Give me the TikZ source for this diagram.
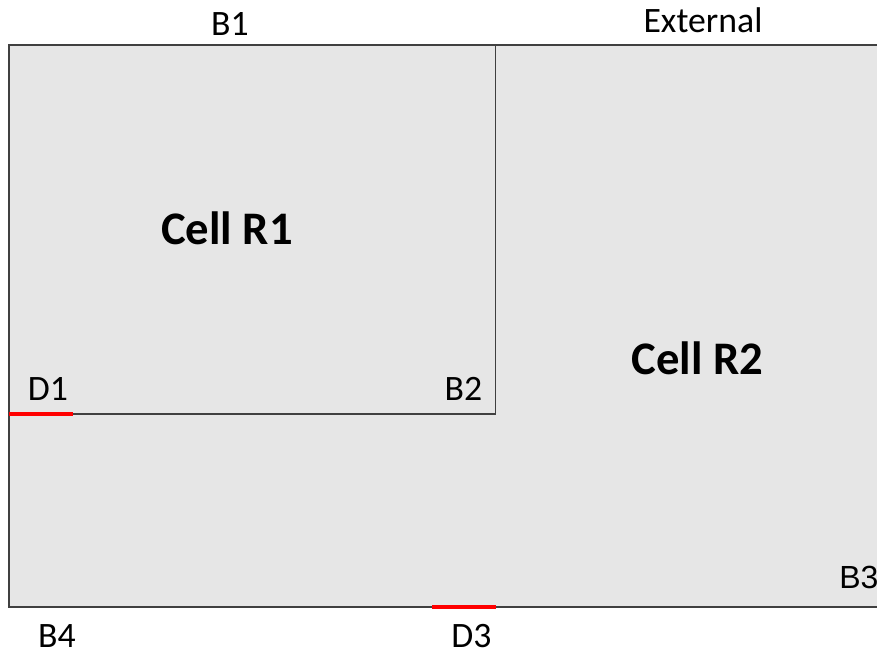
\documentclass[tikz,border=0pt]{standalone}
\usepackage{fontspec}
\setmainfont{Carlito}
\newfontfamily\arialfont{Liberation Sans}
\definecolor{CellGray}{HTML}{E6E6E6}
\definecolor{EdgeGray}{HTML}{404040}
\definecolor{DRed}{HTML}{FF0000}
\tikzset{
	lbl/.style={anchor=base, inner sep=0pt, font=\fontsize{26.8}{30}\selectfont},
	celllbl/.style={anchor=base, inner sep=0pt, font=\fontsize{35}{40}\selectfont\bfseries}
}

\begin{document}
\begin{tikzpicture}[x=0.75pt, y=-0.75pt]
			\useasboundingbox (0,0) rectangle (877,655);
			\draw[EdgeGray, fill=CellGray, line width=1.2pt] (9,45) rectangle (890,607);
			\draw[EdgeGray, line width=1.2pt] (9,45) rectangle (495.5,414);
			\draw[DRed, line width=3pt] (9,414) -- (73,414);
			\draw[DRed, line width=3pt] (432,607) -- (495.5,607);
			
			\node[celllbl] (r1) at (227,245) {Cell R1};
			\node[celllbl] (r2) at (697.5,375) {Cell R2};
			\node[lbl] (b1) at (230,36) {B1};
			\node[lbl] (ext) at (703,33) {External};
			\node[lbl] (d1) at (48,400) {D1};
			\node[lbl] (b2) at (463.5,400) {B2};
			\node[lbl] (d3) at (471.5,647) {D3};
			\node[lbl] (b4) at (57,647) {B4};
			\node[anchor=base west, inner sep=0pt, font=\arialfont\fontsize{24}{28}\selectfont] (b3) at (839,588) {B3};
		\end{tikzpicture}
\end{document}
